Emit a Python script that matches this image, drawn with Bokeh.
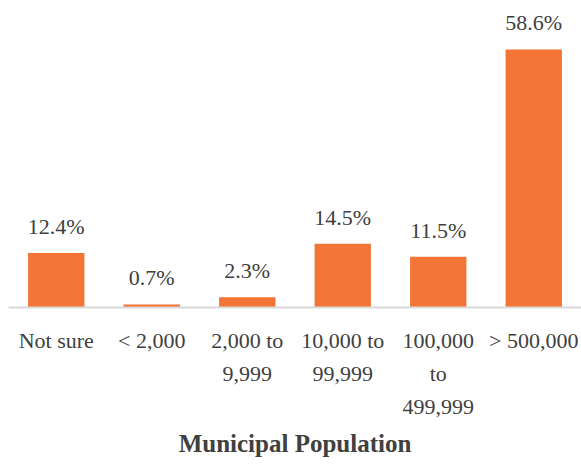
from bokeh.plotting import figure
from bokeh.models import ColumnDataSource, Range1d, LabelSet
from bokeh.embed import file_html
from bokeh.resources import INLINE

categories = ["Not sure", "< 2,000", "2,000 to\n9,999", "10,000 to\n99,999",
              "100,000\nto\n499,999", "> 500,000"]
values = [12.4, 0.7, 2.3, 14.5, 11.5, 58.6]
value_labels = ["12.4%", "0.7%", "2.3%", "14.5%", "11.5%", "58.6%"]
axis_title = "Municipal Population"

FONT = "Liberation Serif"
TEXT = "#404040"

src = ColumnDataSource(dict(cat=categories, val=values, lab=value_labels))

p = figure(x_range=categories, y_range=Range1d(0, 67.9),
           frame_width=573, frame_height=299,
           output_backend="svg", toolbar_location=None,
           min_border_left=8, min_border_right=0, min_border_top=8, min_border_bottom=0)

p.vbar(x="cat", top="val", width=0.59, source=src, color="#F37535", line_color=None)

labels = LabelSet(x="cat", y="val", text="lab", source=src, text_align="center",
                  text_baseline="alphabetic", y_offset=19, text_font=FONT,
                  text_font_size="22px", text_color=TEXT)
p.add_layout(labels)

p.yaxis.visible = False
p.xgrid.visible = False
p.ygrid.visible = False
p.outline_line_color = None

ax = p.xaxis[0]
ax.axis_line_color = "#D9D9D9"
ax.axis_line_width = 2
ax.major_tick_line_color = None
ax.minor_tick_line_color = None
ax.major_label_text_font = FONT
ax.major_label_text_font_size = "22px"
ax.major_label_text_color = TEXT
ax.major_label_text_line_height = 1.32
ax.major_label_standoff = 14
ax.axis_label = axis_title
ax.axis_label_text_font = FONT
ax.axis_label_text_font_size = "25px"
ax.axis_label_text_font_style = "bold"
ax.axis_label_text_color = TEXT
ax.axis_label_standoff = 8

open("out.html", "w").write(file_html(p, INLINE))
